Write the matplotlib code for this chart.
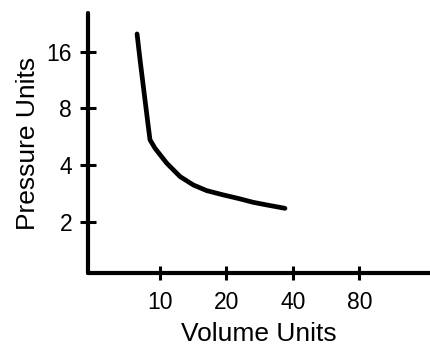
import matplotlib
matplotlib.use('Agg')
import matplotlib.pyplot as plt
from matplotlib.ticker import NullLocator

plt.rcParams['font.family'] = ['Liberation Sans', 'DejaVu Sans']

# curve (log-log axes)
volume = [7.87, 8.12, 8.55, 8.85, 9.01, 9.49, 10.72, 12.32, 14.15, 16.27,
          19.35, 23.0, 26.4, 30.4, 36.8]
pressure = [19.9, 14.5, 8.89, 6.41, 5.45, 4.92, 4.10, 3.48, 3.14, 2.93,
            2.78, 2.65, 2.54, 2.46, 2.36]

xticks = [10, 20, 40, 80]
yticks = [2, 4, 8, 16]

fig = plt.figure(figsize=(4.3, 3.52), dpi=100)
ax = fig.add_axes([0.2047, 0.2244, 0.7953, 0.7386])

ax.plot(volume, pressure, color='black', lw=3.4, solid_capstyle='round', solid_joinstyle='round')

ax.set_xscale('log', base=2)
ax.set_yscale('log', base=2)
ax.set_xlim(4.72, 167)
ax.set_ylim(1.07, 25.7)

ax.set_xticks(xticks)
ax.set_xticklabels([str(t) for t in xticks])
ax.set_yticks(yticks)
ax.set_yticklabels([str(t) for t in yticks])
ax.xaxis.set_minor_locator(NullLocator())
ax.yaxis.set_minor_locator(NullLocator())

for s in ['top', 'right']:
    ax.spines[s].set_visible(False)
for s in ['left', 'bottom']:
    ax.spines[s].set_linewidth(3)
    ax.spines[s].set_capstyle('round')

ax.tick_params(axis='y', direction='inout', length=11, width=2.2, labelsize=16.5, pad=6)
ax.tick_params(axis='x', direction='inout', length=10, width=2.2, labelsize=16.5, pad=8)

ax.set_xlabel('Volume Units', fontsize=19, labelpad=6)
ax.set_ylabel('Pressure Units', fontsize=19, labelpad=5)

fig.savefig('out.png', dpi=100)
